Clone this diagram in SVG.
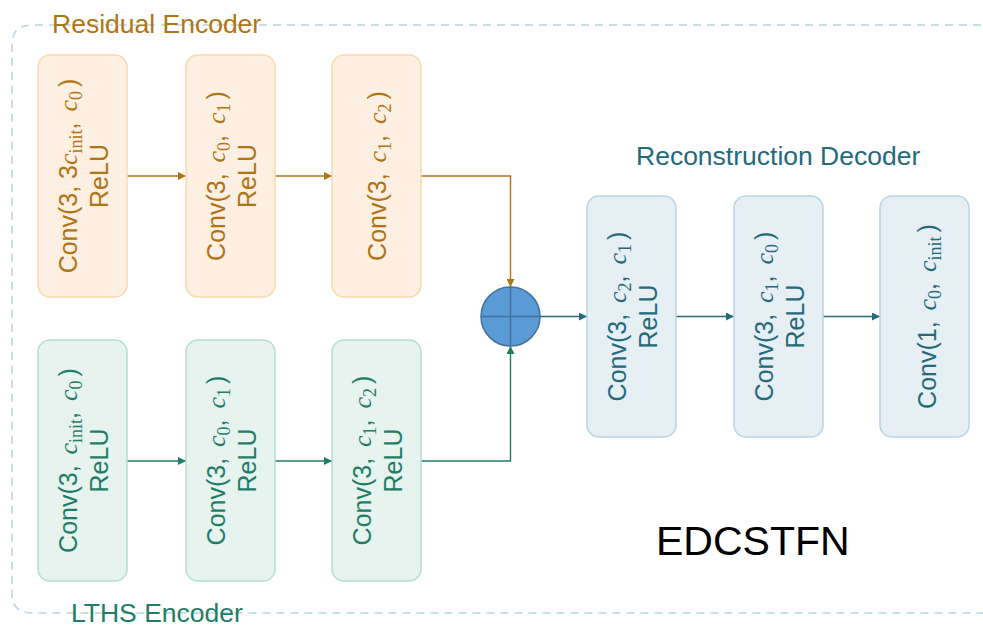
<svg xmlns="http://www.w3.org/2000/svg" width="983" height="628" viewBox="0 0 983 628">
<style>
.or rect{fill:#fdefe2;stroke:#fdd8ae;stroke-width:1.5}
.gr rect{fill:#e6f3ef;stroke:#b3dfd0;stroke-width:1.5}
.bl rect{fill:#e6eff3;stroke:#b7d5e3;stroke-width:1.5}
.or text{fill:#b07412}
.gr text{fill:#1f7d66}
.bl text{fill:#246a7b}
text{font-family:"Liberation Sans",Arial,sans-serif;font-size:25px;text-anchor:middle}
.m{font-family:"Liberation Serif","Times New Roman",serif;font-style:italic;font-size:26px}
.s{font-family:"Liberation Serif","Times New Roman",serif;font-style:normal;font-size:18px}
.title{font-size:26.5px;text-anchor:start}
</style>
<defs>
<marker id="ao" viewBox="0 0 10 10" refX="10" refY="5" markerWidth="8" markerHeight="8" markerUnits="userSpaceOnUse" orient="auto"><path d="M0,0 L10,5 L0,10 z" fill="#b07412"/></marker>
<marker id="ag" viewBox="0 0 10 10" refX="10" refY="5" markerWidth="8" markerHeight="8" markerUnits="userSpaceOnUse" orient="auto"><path d="M0,0 L10,5 L0,10 z" fill="#1f7d66"/></marker>
<marker id="ab" viewBox="0 0 10 10" refX="10" refY="5" markerWidth="8" markerHeight="8" markerUnits="userSpaceOnUse" orient="auto"><path d="M0,0 L10,5 L0,10 z" fill="#246a7b"/></marker>
</defs>

<path d="M995 25 H32 Q12 25 12 45 V593 Q12 613 32 613 H995" fill="none" stroke="#b7d5e3" stroke-width="1.5" stroke-dasharray="8 6"/>

<text class="title" x="52" y="33" fill="#b07412">Residual Encoder</text>
<text class="title" x="71" y="622" fill="#1f7d66">LTHS Encoder</text>
<text class="title" x="636" y="165" fill="#246a7b">Reconstruction Decoder</text>
<text x="656" y="555" style="font-size:41px;text-anchor:start" fill="#000">EDCSTFN</text>

<g id="connectors" fill="none" stroke-width="1.4">
<line x1="127" y1="176" x2="186" y2="176" stroke="#b07412" marker-end="url(#ao)"/>
<line x1="275" y1="176" x2="332" y2="176" stroke="#b07412" marker-end="url(#ao)"/>
<path d="M421 176 H510.5 V287" stroke="#b07412" marker-end="url(#ao)"/>
<line x1="127" y1="461" x2="186" y2="461" stroke="#1f7d66" marker-end="url(#ag)"/>
<line x1="275" y1="461" x2="332" y2="461" stroke="#1f7d66" marker-end="url(#ag)"/>
<path d="M421 461 H510.5 V346" stroke="#1f7d66" marker-end="url(#ag)"/>
<line x1="540" y1="316.5" x2="587" y2="316.5" stroke="#246a7b" marker-end="url(#ab)"/>
<line x1="676" y1="316.5" x2="734" y2="316.5" stroke="#246a7b" marker-end="url(#ab)"/>
<line x1="823" y1="316.5" x2="880" y2="316.5" stroke="#246a7b" marker-end="url(#ab)"/>
</g>

<g id="sum">
<circle cx="510.5" cy="316.5" r="29.5" fill="#5b9bd5" stroke="#41719c" stroke-width="1.5"/>
<path d="M481 316.5 H540 M510.5 287 V346" stroke="#41719c" stroke-width="1.5"/>
</g>

<g id="res1" class="or">
<rect x="38" y="55" width="89" height="242" rx="12"/>
<text transform="translate(82.5,176) rotate(-90)"><tspan y="-5.5">Conv(3, 3</tspan><tspan class="m">c</tspan><tspan class="s" dy="5">init</tspan><tspan dy="-5">, </tspan><tspan class="m" dx="4">c</tspan><tspan class="s" dy="5">0</tspan><tspan dy="-5" dx="4">)</tspan><tspan x="0" y="25.5">ReLU</tspan></text>
</g>
<g id="res2" class="or">
<rect x="186" y="55" width="89" height="242" rx="12"/>
<text transform="translate(230.5,176) rotate(-90)"><tspan y="-5.5">Conv(3, </tspan><tspan class="m" dx="4">c</tspan><tspan class="s" dy="5">0</tspan><tspan dy="-5">, </tspan><tspan class="m" dx="4">c</tspan><tspan class="s" dy="5">1</tspan><tspan dy="-5" dx="4">)</tspan><tspan x="0" y="25.5">ReLU</tspan></text>
</g>
<g id="res3" class="or">
<rect x="332" y="55" width="89" height="242" rx="12"/>
<text transform="translate(376.5,176) rotate(-90)"><tspan y="9">Conv(3, </tspan><tspan class="m" dx="4">c</tspan><tspan class="s" dy="5">1</tspan><tspan dy="-5">, </tspan><tspan class="m" dx="4">c</tspan><tspan class="s" dy="5">2</tspan><tspan dy="-5" dx="4">)</tspan></text>
</g>

<g id="lths1" class="gr">
<rect x="38" y="340" width="89" height="241" rx="12"/>
<text transform="translate(82.5,460.5) rotate(-90)"><tspan y="-5.5">Conv(3, </tspan><tspan class="m" dx="4">c</tspan><tspan class="s" dy="5">init</tspan><tspan dy="-5">, </tspan><tspan class="m" dx="4">c</tspan><tspan class="s" dy="5">0</tspan><tspan dy="-5" dx="4">)</tspan><tspan x="0" y="25.5">ReLU</tspan></text>
</g>
<g id="lths2" class="gr">
<rect x="186" y="340" width="89" height="241" rx="12"/>
<text transform="translate(230.5,460.5) rotate(-90)"><tspan y="-5.5">Conv(3, </tspan><tspan class="m" dx="4">c</tspan><tspan class="s" dy="5">0</tspan><tspan dy="-5">, </tspan><tspan class="m" dx="4">c</tspan><tspan class="s" dy="5">1</tspan><tspan dy="-5" dx="4">)</tspan><tspan x="0" y="25.5">ReLU</tspan></text>
</g>
<g id="lths3" class="gr">
<rect x="332" y="340" width="89" height="241" rx="12"/>
<text transform="translate(376.5,460.5) rotate(-90)"><tspan y="-5.5">Conv(3, </tspan><tspan class="m" dx="4">c</tspan><tspan class="s" dy="5">1</tspan><tspan dy="-5">, </tspan><tspan class="m" dx="4">c</tspan><tspan class="s" dy="5">2</tspan><tspan dy="-5" dx="4">)</tspan><tspan x="0" y="25.5">ReLU</tspan></text>
</g>

<g id="dec1" class="bl">
<rect x="587" y="196" width="89" height="241" rx="12"/>
<text transform="translate(631.5,316.5) rotate(-90)"><tspan y="-6">Conv(3, </tspan><tspan class="m" dx="4">c</tspan><tspan class="s" dy="5">2</tspan><tspan dy="-5">, </tspan><tspan class="m" dx="4">c</tspan><tspan class="s" dy="5">1</tspan><tspan dy="-5" dx="4">)</tspan><tspan x="0" y="25.5">ReLU</tspan></text>
</g>
<g id="dec2" class="bl">
<rect x="734" y="196" width="89" height="241" rx="12"/>
<text transform="translate(778.5,316.5) rotate(-90)"><tspan y="-6">Conv(3, </tspan><tspan class="m" dx="4">c</tspan><tspan class="s" dy="5">1</tspan><tspan dy="-5">, </tspan><tspan class="m" dx="4">c</tspan><tspan class="s" dy="5">0</tspan><tspan dy="-5" dx="4">)</tspan><tspan x="0" y="25.5">ReLU</tspan></text>
</g>
<g id="dec3" class="bl">
<rect x="880" y="196" width="89" height="241" rx="12"/>
<text transform="translate(924.5,316.5) rotate(-90)"><tspan y="11">Conv(1, </tspan><tspan class="m" dx="4">c</tspan><tspan class="s" dy="5">0</tspan><tspan dy="-5">, </tspan><tspan class="m" dx="4">c</tspan><tspan class="s" dy="5">init</tspan><tspan dy="-5" dx="4">)</tspan></text>
</g>
</svg>
